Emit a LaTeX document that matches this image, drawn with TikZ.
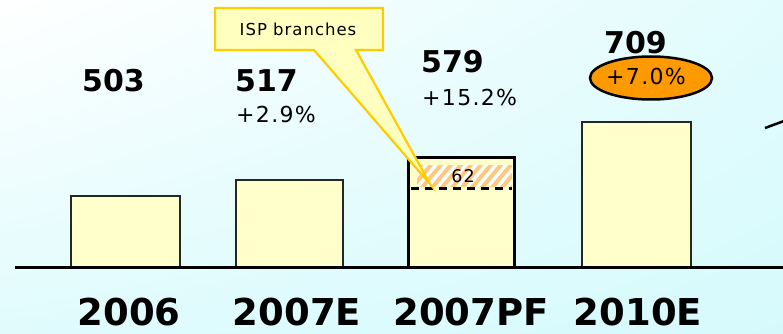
\documentclass[tikz,border=0pt]{standalone}
\usepackage{fontspec}
\setmainfont{DejaVu Sans}
\newfontfamily\spaced[LetterSpace=6]{DejaVu Sans}
\usetikzlibrary{shapes.geometric,shadings}
\definecolor{barfill}{HTML}{FFFFCC}
\definecolor{callfill}{HTML}{FFFFC0}
\definecolor{callline}{HTML}{FFCC00}
\definecolor{orangefill}{HTML}{FF9900}
\definecolor{hatchcol}{HTML}{FFC880}
\definecolor{bgcyan}{HTML}{D6FAFC}
\tikzset{
  barbox/.style={draw=black!85, line width=2pt, fill=barfill},
  vallabel/.style={font=\fontsize{30}{31}\selectfont\bfseries, anchor=west, inner sep=0pt},
  pctlabel/.style={font=\spaced\fontsize{22}{23}\selectfont, anchor=west, inner sep=0pt},
  yearlabel/.style={font=\fontsize{37}{39}\selectfont\bfseries, inner sep=0pt},
}
\begin{document}
\begin{tikzpicture}[x=1pt,y=-1pt]
\useasboundingbox (0,0) rectangle (783,334);
\shade[upper left=white, upper right=bgcyan!70, lower left=bgcyan!75, lower right=bgcyan] (0,0) rectangle (783,334);
% bars
\draw[barbox] (71,267) rectangle (180,196);
\draw[barbox] (236,267) rectangle (343,180);
\draw[barbox, draw=black, line width=3pt] (408,267) rectangle (514,157);
\draw[barbox] (582,267) rectangle (691,122);
% hatch
\begin{scope}
\clip (417,165) rectangle (512,186);
\fill[white] (417,165) rectangle (512,186);
\foreach \i in {0,...,14}{
  \draw[hatchcol, line width=4pt] (400+\i*10,190) -- (425+\i*10,160);
}
\end{scope}
\node[font=\spaced\fontsize{17.5}{18}\selectfont, inner sep=0pt] (n62) at (463,176) {62};
\draw[black, line width=3pt, dash pattern=on 8pt off 6pt] (411,188) -- (512,188);
% baseline
\draw[black, line width=3pt] (15,267) -- (783,267);
% callout
\draw[callline, fill=callfill, line width=2.2pt, line join=miter]
  (215,8) -- (383,8) -- (383,50) -- (356,50) -- (430,184) -- (314,50) -- (215,50) -- cycle;
\node[font=\spaced\fontsize{16.5}{18}\selectfont, inner sep=0pt] (isp) at (298,29) {ISP branches};
% value labels
\node[vallabel] (v503) at (82,81) {503};
\node[vallabel] (v517) at (235,81) {517};
\node[pctlabel] (p517) at (236,114) {+2.9\%};
\node[vallabel] (v579) at (421,62) {579};
\node[pctlabel] (p579) at (422,97) {+15.2\%};
\node[vallabel] (v709) at (604,43) {709};
\node[ellipse, draw=black, line width=2.5pt, fill=orangefill, minimum width=122pt, minimum height=43pt, inner sep=0pt] (ell) at (651,78) {};
\node[font=\spaced\fontsize{22}{23}\selectfont, inner sep=0pt] (p709) at (646,76) {+7.0\%};
% year labels
\node[yearlabel] (y1) at (129,312) {2006};
\node[yearlabel] (y2) at (297,312) {2007E};
\node[yearlabel] (y3) at (471,312) {2007PF};
\node[yearlabel] (y4) at (638,312) {2010E};
% right edge fragment
\coordinate (ra) at (765,128);
\coordinate (rb) at (784,121);
\draw[black, line width=2.5pt] (ra) -- (rb);
\end{tikzpicture}
\end{document}
